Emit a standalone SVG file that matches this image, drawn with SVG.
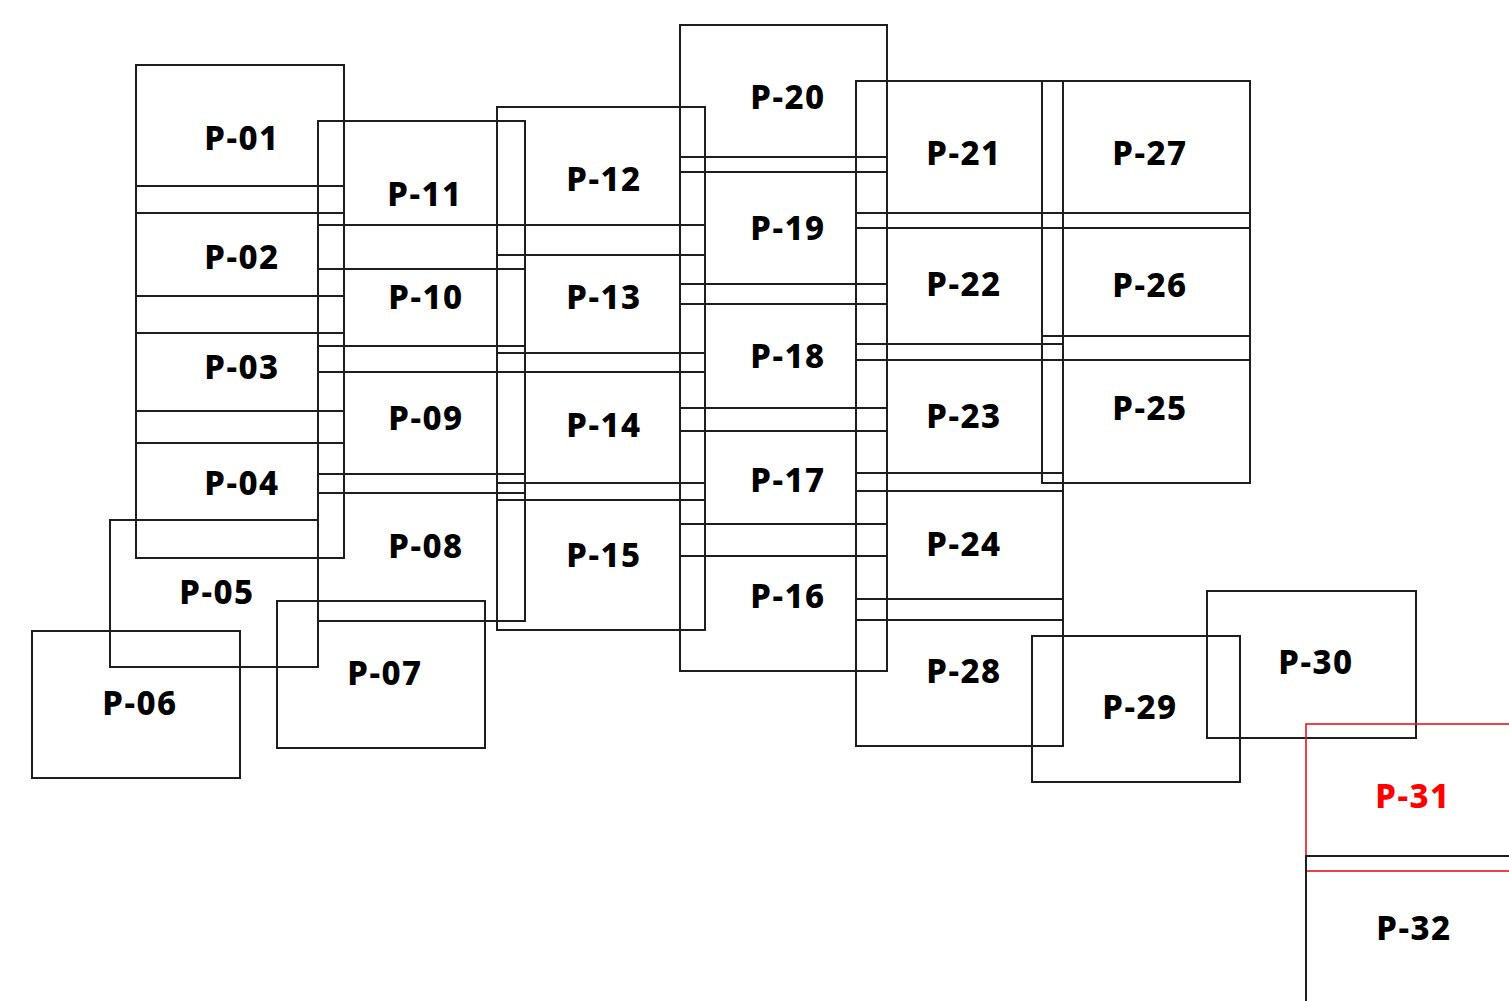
<svg xmlns="http://www.w3.org/2000/svg" width="1509" height="1001" viewBox="0 0 1509 1001">
<style>
.b{fill:none;stroke:#1e1e1e;stroke-width:2}
.r{fill:none;stroke:#e8141c;stroke-width:1.6}
.t{font-family:"Noto Sans","Open Sans","DejaVu Sans",sans-serif;font-weight:800;font-size:33px;letter-spacing:1.5px;fill:#000;text-anchor:middle}
.tr{fill:#f00}
</style>
<rect width="1509" height="1001" fill="#fff"/>
<g id="P-01"><rect class="b" x="136" y="65" width="208" height="148"/><text class="t" x="242" y="150">P-01</text></g>
<g id="P-02"><rect class="b" x="136" y="186" width="208" height="147"/><text class="t" x="242" y="269">P-02</text></g>
<g id="P-03"><rect class="b" x="136" y="296" width="208" height="147"/><text class="t" x="242" y="379">P-03</text></g>
<g id="P-04"><rect class="b" x="136" y="411" width="208" height="147"/><text class="t" x="242" y="495">P-04</text></g>
<g id="P-05"><rect class="b" x="110" y="520" width="208" height="147"/><text class="t" x="217" y="604">P-05</text></g>
<g id="P-06"><rect class="b" x="32" y="631" width="208" height="147"/><text class="t" x="140" y="715">P-06</text></g>
<g id="P-07"><rect class="b" x="277" y="601" width="208" height="147"/><text class="t" x="385" y="685">P-07</text></g>
<g id="P-08"><rect class="b" x="318" y="474" width="207" height="147"/><text class="t" x="426" y="558">P-08</text></g>
<g id="P-09"><rect class="b" x="318" y="346" width="207" height="147"/><text class="t" x="426" y="430">P-09</text></g>
<g id="P-10"><rect class="b" x="318" y="225" width="207" height="147"/><text class="t" x="426" y="309">P-10</text></g>
<g id="P-11"><rect class="b" x="318" y="121" width="207" height="148"/><text class="t" x="425" y="206">P-11</text></g>
<g id="P-12"><rect class="b" x="497" y="107" width="208" height="148"/><text class="t" x="604" y="191">P-12</text></g>
<g id="P-13"><rect class="b" x="497" y="225" width="208" height="147"/><text class="t" x="604" y="309">P-13</text></g>
<g id="P-14"><rect class="b" x="497" y="353" width="208" height="147"/><text class="t" x="604" y="437">P-14</text></g>
<g id="P-15"><rect class="b" x="497" y="483" width="208" height="147"/><text class="t" x="604" y="567">P-15</text></g>
<g id="P-16"><rect class="b" x="680" y="524" width="207" height="147"/><text class="t" x="788" y="608">P-16</text></g>
<g id="P-17"><rect class="b" x="680" y="408" width="207" height="148"/><text class="t" x="788" y="492">P-17</text></g>
<g id="P-18"><rect class="b" x="680" y="284" width="207" height="147"/><text class="t" x="788" y="368">P-18</text></g>
<g id="P-19"><rect class="b" x="680" y="157" width="207" height="147"/><text class="t" x="788" y="240">P-19</text></g>
<g id="P-20"><rect class="b" x="680" y="25" width="207" height="147"/><text class="t" x="788" y="109">P-20</text></g>
<g id="P-21"><rect class="b" x="856" y="81" width="207" height="147"/><text class="t" x="964" y="165">P-21</text></g>
<g id="P-22"><rect class="b" x="856" y="213" width="207" height="147"/><text class="t" x="964" y="296">P-22</text></g>
<g id="P-23"><rect class="b" x="856" y="344" width="207" height="147"/><text class="t" x="964" y="428">P-23</text></g>
<g id="P-24"><rect class="b" x="856" y="473" width="207" height="147"/><text class="t" x="964" y="556">P-24</text></g>
<g id="P-25"><rect class="b" x="1042" y="336" width="208" height="147"/><text class="t" x="1150" y="420">P-25</text></g>
<g id="P-26"><rect class="b" x="1042" y="213" width="208" height="147"/><text class="t" x="1150" y="297">P-26</text></g>
<g id="P-27"><rect class="b" x="1042" y="81" width="208" height="147"/><text class="t" x="1150" y="165">P-27</text></g>
<g id="P-28"><rect class="b" x="856" y="599" width="207" height="147"/><text class="t" x="964" y="683">P-28</text></g>
<g id="P-29"><rect class="b" x="1032" y="636" width="208" height="146"/><text class="t" x="1140" y="719">P-29</text></g>
<g id="P-30"><rect class="b" x="1207" y="591" width="209" height="147"/><text class="t" x="1316" y="674">P-30</text></g>
<g id="P-31"><rect class="r" x="1306" y="724" width="208" height="147"/><text class="t tr" x="1413" y="808">P-31</text></g>
<g id="P-32"><rect class="b" x="1306" y="856" width="208" height="147"/><text class="t" x="1414" y="940">P-32</text></g>
</svg>
